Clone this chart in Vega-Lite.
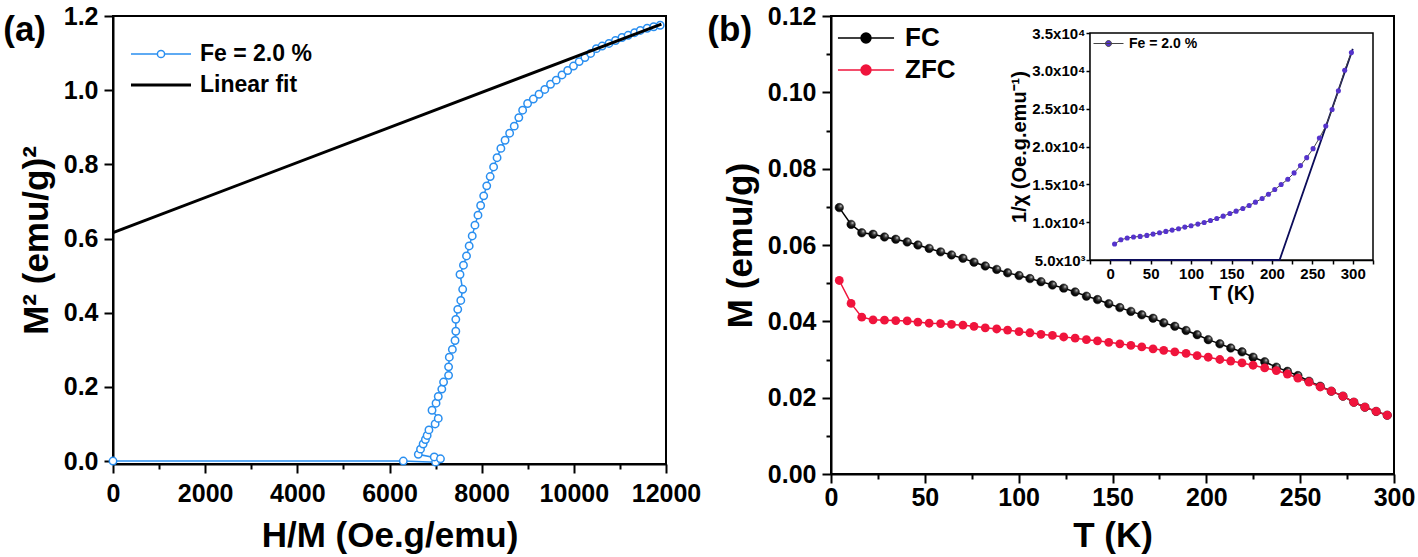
{
  "$schema": "https://vega.github.io/schema/vega-lite/v6.json",
  "background": "white",
  "padding": {"left": 2, "top": 3, "right": 0, "bottom": 0},
  "config": {
    "font": "Liberation Sans",
    "view": {"stroke": "black", "strokeWidth": 2},
    "axis": {
      "grid": false, "domainColor": "black", "domainWidth": 2, "tickColor": "black", "tickWidth": 2,
      "labelFont": "Liberation Sans", "labelFontSize": 25, "labelFontWeight": "bold", "labelColor": "black",
      "titleFont": "Liberation Sans", "titleFontSize": 35, "titleFontWeight": "bold", "titleColor": "black",
      "labelFlush": false, "labelOverlap": false
    },
    "legend": {"labelFont": "Liberation Sans", "labelFontWeight": "bold", "labelColor": "black", "padding": 0},
    "title": {"font": "Liberation Sans", "fontWeight": "bold", "fontSize": 35, "color": "black", "anchor": "start", "frame": "bounds", "baseline": "top"}
  },
  "spacing": 4,
  "resolve": {"scale": {"color": "independent"}, "legend": {"color": "independent"}},
  "hconcat": [
    {
      "width": 553,
      "height": 448,
      "title": {"text": "(a)", "offset": -44, "dx": -16},
      "layer": [
        {
          "data": {"values": [
            {"i": 1, "h": 0, "m": 0}, {"i": 2, "h": 6300, "m": 0}, {"i": 3, "h": 7000, "m": -0.003},
            {"i": 4, "h": 6971, "m": 0.011}, {"i": 5, "h": 7106, "m": 0.006}, {"i": 6, "h": 6625, "m": 0.018},
            {"i": 7, "h": 6673, "m": 0.032}, {"i": 8, "h": 6730, "m": 0.046}, {"i": 9, "h": 6779, "m": 0.058},
            {"i": 10, "h": 6817, "m": 0.069}, {"i": 11, "h": 6856, "m": 0.084}, {"i": 12, "h": 6990, "m": 0.1},
            {"i": 13, "h": 7058, "m": 0.115}, {"i": 14, "h": 6923, "m": 0.137}, {"i": 15, "h": 7010, "m": 0.156},
            {"i": 16, "h": 7058, "m": 0.174}, {"i": 17, "h": 7135, "m": 0.194}, {"i": 18, "h": 7173, "m": 0.213},
            {"i": 19, "h": 7282, "m": 0.231}, {"i": 20, "h": 7282, "m": 0.254}, {"i": 21, "h": 7298, "m": 0.28},
            {"i": 22, "h": 7364, "m": 0.301}, {"i": 23, "h": 7422, "m": 0.325}, {"i": 24, "h": 7439, "m": 0.35},
            {"i": 25, "h": 7439, "m": 0.382}, {"i": 26, "h": 7481, "m": 0.409}, {"i": 27, "h": 7547, "m": 0.433},
            {"i": 28, "h": 7588, "m": 0.463}, {"i": 29, "h": 7530, "m": 0.503}, {"i": 30, "h": 7605, "m": 0.528},
            {"i": 31, "h": 7671, "m": 0.553}, {"i": 32, "h": 7729, "m": 0.58}, {"i": 33, "h": 7795, "m": 0.607},
            {"i": 34, "h": 7854, "m": 0.636}, {"i": 35, "h": 7920, "m": 0.663}, {"i": 36, "h": 7978, "m": 0.689},
            {"i": 37, "h": 8044, "m": 0.715}, {"i": 38, "h": 8110, "m": 0.742}, {"i": 39, "h": 8185, "m": 0.767},
            {"i": 40, "h": 8259, "m": 0.793}, {"i": 41, "h": 8334, "m": 0.818}, {"i": 42, "h": 8417, "m": 0.843},
            {"i": 43, "h": 8508, "m": 0.865}, {"i": 44, "h": 8607, "m": 0.884}, {"i": 45, "h": 8707, "m": 0.903},
            {"i": 46, "h": 8806, "m": 0.926}, {"i": 47, "h": 8889, "m": 0.946}, {"i": 48, "h": 8997, "m": 0.964},
            {"i": 49, "h": 9121, "m": 0.976}, {"i": 50, "h": 9245, "m": 0.989}, {"i": 51, "h": 9370, "m": 1.002},
            {"i": 52, "h": 9494, "m": 1.016}, {"i": 53, "h": 9618, "m": 1.027}, {"i": 54, "h": 9743, "m": 1.041},
            {"i": 55, "h": 9867, "m": 1.053}, {"i": 56, "h": 9992, "m": 1.065}, {"i": 57, "h": 10116, "m": 1.077},
            {"i": 58, "h": 10241, "m": 1.088}, {"i": 59, "h": 10365, "m": 1.099}, {"i": 60, "h": 10489, "m": 1.112},
            {"i": 61, "h": 10614, "m": 1.119}, {"i": 62, "h": 10763, "m": 1.126}, {"i": 63, "h": 10904, "m": 1.134},
            {"i": 64, "h": 11045, "m": 1.142}, {"i": 65, "h": 11178, "m": 1.148}, {"i": 66, "h": 11319, "m": 1.155},
            {"i": 67, "h": 11443, "m": 1.161}, {"i": 68, "h": 11592, "m": 1.167}, {"i": 69, "h": 11733, "m": 1.171},
            {"i": 70, "h": 11874, "m": 1.175}
          ]},
          "mark": {"type": "line", "strokeWidth": 1.5, "point": {"filled": false, "fill": "white", "size": 55, "strokeWidth": 1.5}},
          "encoding": {
            "x": {
              "field": "h", "type": "quantitative",
              "scale": {"domain": [0, 12000], "nice": false, "zero": false},
              "axis": {
                "title": "H/M (Oe.g/emu)",
                "values": [0, 1000, 2000, 3000, 4000, 5000, 6000, 7000, 8000, 9000, 10000, 11000, 12000],
                "format": "d",
                "labelExpr": "datum.value % 2000 === 0 ? datum.label : ''",
                "tickSize": {"condition": {"test": "datum.value % 2000 === 0", "value": 9}, "value": 5},
                "labelPadding": 8, "titlePadding": 12
              }
            },
            "y": {
              "field": "m", "type": "quantitative",
              "scale": {"domain": [-0.008, 1.2], "nice": false, "zero": false},
              "axis": {
                "title": "M² (emu/g)²",
                "values": [0, 0.1, 0.2, 0.3, 0.4, 0.5, 0.6, 0.7, 0.8, 0.9, 1.0, 1.1, 1.2],
                "labelExpr": "round(datum.value * 10) % 2 === 0 ? format(datum.value, '.1f') : ''",
                "tickSize": {"condition": {"test": "round(datum.value * 10) % 2 === 0", "value": 9}, "value": 5},
                "labelPadding": 6, "titlePadding": 9
              }
            },
            "order": {"field": "i", "type": "quantitative"},
            "color": {
              "datum": "Fe = 2.0 %", "type": "nominal",
              "scale": {"domain": ["Fe = 2.0 %", "Linear fit"], "range": ["#2a8ff0", "black"]},
              "legend": {
                "orient": "none", "legendX": 32, "legendY": 22, "title": null,
                "labelFontSize": 23, "symbolSize": 900, "labelOffset": 23, "rowPadding": 3,
                "encode": {"symbols": {"update": {
                  "shape": {"signal": "(datum.value === 'Linear fit' ? 'M-2,0H2' : 'M-2,0H-0.24M0.24,0H2M-0.24,0A0.24,0.24 0 1,0 0.24,0A0.24,0.24 0 1,0 -0.24,0')"},
                  "size": {"value": 900},
                  "fill": {"value": "white"},
                  "strokeWidth": {"signal": "(datum.value === 'Linear fit' ? 3 : 1.5)"}
                }}}
              }
            }
          }
        },
        {
          "data": {"values": [{"h": 0, "m": 0.616}, {"h": 11900, "m": 1.178}]},
          "mark": {"type": "line", "strokeWidth": 3},
          "encoding": {
            "x": {"field": "h", "type": "quantitative"},
            "y": {"field": "m", "type": "quantitative"},
            "color": {"datum": "Linear fit", "type": "nominal"}
          }
        }
      ]
    },
    {
      "width": 563,
      "height": 458,
      "title": {"text": "(b)", "offset": -44, "dx": -16},
      "resolve": {
        "scale": {"x": "independent", "y": "independent", "color": "independent"},
        "axis": {"x": "independent", "y": "independent"},
        "legend": {"color": "independent"}
      },
      "layer": [
        {
          "data": {"values": [
            {"s": "FC", "T": 4.4, "M": 0.0698}, {"s": "FC", "T": 10.7, "M": 0.0654}, {"s": "FC", "T": 16.4, "M": 0.0632},
            {"s": "FC", "T": 22.4, "M": 0.0628}, {"s": "FC", "T": 28.5, "M": 0.0621}, {"s": "FC", "T": 34.5, "M": 0.0615},
            {"s": "FC", "T": 40.6, "M": 0.0608}, {"s": "FC", "T": 46.3, "M": 0.06}, {"s": "FC", "T": 52.3, "M": 0.0591},
            {"s": "FC", "T": 58.4, "M": 0.0582}, {"s": "FC", "T": 64.2, "M": 0.0574}, {"s": "FC", "T": 70.3, "M": 0.0565},
            {"s": "FC", "T": 76.2, "M": 0.0555}, {"s": "FC", "T": 82.2, "M": 0.0545}, {"s": "FC", "T": 88.3, "M": 0.0536},
            {"s": "FC", "T": 94.1, "M": 0.0527}, {"s": "FC", "T": 100.2, "M": 0.052}, {"s": "FC", "T": 106, "M": 0.0512},
            {"s": "FC", "T": 111.9, "M": 0.0504}, {"s": "FC", "T": 118, "M": 0.0495}, {"s": "FC", "T": 124, "M": 0.0487},
            {"s": "FC", "T": 130.1, "M": 0.0477}, {"s": "FC", "T": 136.1, "M": 0.0466}, {"s": "FC", "T": 142, "M": 0.0457},
            {"s": "FC", "T": 148, "M": 0.0446}, {"s": "FC", "T": 153.9, "M": 0.0436}, {"s": "FC", "T": 159.8, "M": 0.0426},
            {"s": "FC", "T": 165.6, "M": 0.0417}, {"s": "FC", "T": 171.6, "M": 0.0408}, {"s": "FC", "T": 177.3, "M": 0.0396},
            {"s": "FC", "T": 183.2, "M": 0.0387}, {"s": "FC", "T": 189.2, "M": 0.0376}, {"s": "FC", "T": 195.1, "M": 0.0365},
            {"s": "FC", "T": 201, "M": 0.0352}, {"s": "FC", "T": 207.2, "M": 0.0341}, {"s": "FC", "T": 213, "M": 0.033},
            {"s": "FC", "T": 219, "M": 0.032}, {"s": "FC", "T": 224.9, "M": 0.0306}, {"s": "FC", "T": 231.1, "M": 0.0294},
            {"s": "FC", "T": 237.3, "M": 0.028}, {"s": "FC", "T": 243.2, "M": 0.0269}, {"s": "FC", "T": 248.8, "M": 0.0258},
            {"s": "FC", "T": 254.7, "M": 0.0243}, {"s": "FC", "T": 260.7, "M": 0.023}, {"s": "FC", "T": 266.6, "M": 0.0217},
            {"s": "FC", "T": 272.8, "M": 0.0204}, {"s": "FC", "T": 278.6, "M": 0.0188}, {"s": "FC", "T": 284.5, "M": 0.0175},
            {"s": "FC", "T": 290.5, "M": 0.0164}, {"s": "FC", "T": 296.4, "M": 0.0154},
            {"s": "ZFC", "T": 4.4, "M": 0.0507}, {"s": "ZFC", "T": 10.7, "M": 0.0447}, {"s": "ZFC", "T": 16.4, "M": 0.0411},
            {"s": "ZFC", "T": 22.4, "M": 0.0404}, {"s": "ZFC", "T": 28.5, "M": 0.0403}, {"s": "ZFC", "T": 34.5, "M": 0.0402},
            {"s": "ZFC", "T": 40.6, "M": 0.0401}, {"s": "ZFC", "T": 46.3, "M": 0.0398}, {"s": "ZFC", "T": 52.3, "M": 0.0395},
            {"s": "ZFC", "T": 58.4, "M": 0.0394}, {"s": "ZFC", "T": 64.2, "M": 0.0392}, {"s": "ZFC", "T": 70.3, "M": 0.039},
            {"s": "ZFC", "T": 76.2, "M": 0.0387}, {"s": "ZFC", "T": 82.2, "M": 0.0383}, {"s": "ZFC", "T": 88.3, "M": 0.038},
            {"s": "ZFC", "T": 94.1, "M": 0.0377}, {"s": "ZFC", "T": 100.2, "M": 0.0373}, {"s": "ZFC", "T": 106, "M": 0.037},
            {"s": "ZFC", "T": 111.9, "M": 0.0366}, {"s": "ZFC", "T": 118, "M": 0.0363}, {"s": "ZFC", "T": 124, "M": 0.0359},
            {"s": "ZFC", "T": 130.1, "M": 0.0356}, {"s": "ZFC", "T": 136.1, "M": 0.0352}, {"s": "ZFC", "T": 142, "M": 0.0349},
            {"s": "ZFC", "T": 148, "M": 0.0345}, {"s": "ZFC", "T": 153.9, "M": 0.0341}, {"s": "ZFC", "T": 159.8, "M": 0.0337},
            {"s": "ZFC", "T": 165.6, "M": 0.0333}, {"s": "ZFC", "T": 171.6, "M": 0.0328}, {"s": "ZFC", "T": 177.3, "M": 0.0324},
            {"s": "ZFC", "T": 183.2, "M": 0.032}, {"s": "ZFC", "T": 189.2, "M": 0.0316}, {"s": "ZFC", "T": 195.1, "M": 0.031},
            {"s": "ZFC", "T": 201, "M": 0.0306}, {"s": "ZFC", "T": 207.2, "M": 0.03}, {"s": "ZFC", "T": 213, "M": 0.0296},
            {"s": "ZFC", "T": 219, "M": 0.0291}, {"s": "ZFC", "T": 224.9, "M": 0.0285}, {"s": "ZFC", "T": 231.1, "M": 0.0278},
            {"s": "ZFC", "T": 237.3, "M": 0.0271}, {"s": "ZFC", "T": 243.2, "M": 0.0262}, {"s": "ZFC", "T": 248.8, "M": 0.0251},
            {"s": "ZFC", "T": 254.7, "M": 0.0241}, {"s": "ZFC", "T": 260.7, "M": 0.0228}, {"s": "ZFC", "T": 266.6, "M": 0.0217},
            {"s": "ZFC", "T": 272.8, "M": 0.0204}, {"s": "ZFC", "T": 278.6, "M": 0.0188}, {"s": "ZFC", "T": 284.5, "M": 0.0175},
            {"s": "ZFC", "T": 290.5, "M": 0.0164}, {"s": "ZFC", "T": 296.4, "M": 0.0154}
          ]},
          "encoding": {
            "x": {
              "field": "T", "type": "quantitative",
              "scale": {"domain": [0, 300], "nice": false, "zero": false},
              "axis": {
                "title": "T (K)",
                "values": [0, 25, 50, 75, 100, 125, 150, 175, 200, 225, 250, 275, 300],
                "labelExpr": "datum.value % 50 === 0 ? datum.label : ''",
                "tickSize": {"condition": {"test": "datum.value % 50 === 0", "value": 9}, "value": 5},
                "labelPadding": 2, "titlePadding": 8
              }
            },
            "y": {
              "field": "M", "type": "quantitative",
              "scale": {"domain": [0, 0.12], "nice": false, "zero": false},
              "axis": {
                "title": "M (emu/g)",
                "values": [0, 0.01, 0.02, 0.03, 0.04, 0.05, 0.06, 0.07, 0.08, 0.09, 0.1, 0.11, 0.12],
                "labelExpr": "round(datum.value * 100) % 2 === 0 ? format(datum.value, '.2f') : ''",
                "tickSize": {"condition": {"test": "round(datum.value * 100) % 2 === 0", "value": 9}, "value": 5},
                "labelPadding": 6, "titlePadding": 9
              }
            }
          },
          "layer": [
            {
              "mark": {"type": "line", "strokeWidth": 1.5},
              "encoding": {
                "order": {"field": "T", "type": "quantitative"},
                "color": {
                  "field": "s", "type": "nominal",
                  "scale": {"domain": ["FC", "ZFC"], "range": ["black", "#f0143c"]},
                  "legend": {
                    "orient": "none", "legendX": 19, "legendY": 6, "title": null,
                    "labelFontSize": 26, "symbolSize": 900, "labelOffset": 23, "rowPadding": 3,
                    "encode": {"symbols": {"update": {
                      "shape": {"value": "M-1.87,0H1.87M-0.33,0A0.33,0.33 0 1,0 0.33,0A0.33,0.33 0 1,0 -0.33,0"},
                      "size": {"value": 900},
                      "fill": {"signal": "(datum.value === 'FC' ? 'black' : '#f0143c')"},
                      "strokeWidth": {"value": 1.5}
                    }}}
                  }
                }
              }
            },
            {
              "transform": [{"filter": "datum.s === 'FC'"}],
              "mark": {
                "type": "point", "filled": true, "size": 72, "opacity": 1, "stroke": "#111", "strokeWidth": 0.5,
                "fill": {
                  "gradient": "radial", "x1": 0.68, "y1": 0.32, "r1": 0, "x2": 0.6, "y2": 0.4, "r2": 0.62,
                  "stops": [
                    {"offset": 0, "color": "#eeeeee"},
                    {"offset": 0.25, "color": "#555555"},
                    {"offset": 0.6, "color": "#111111"},
                    {"offset": 1, "color": "#000000"}
                  ]
                }
              }
            },
            {
              "transform": [{"filter": "datum.s === 'ZFC'"}],
              "mark": {"type": "circle", "size": 78, "opacity": 1, "color": "#f0143c"}
            }
          ]
        },
        {
          "layer": [
            {
              "data": {"values": [{}]},
              "mark": {"type": "rect", "fill": "white", "stroke": "black", "strokeWidth": 1.5},
              "encoding": {
                "x": {
                  "datum": -25, "type": "quantitative",
                  "scale": {"domain": [-25, 325], "nice": false, "zero": false, "range": [259, 542]},
                  "axis": {
                    "orient": "bottom", "offset": -214, "title": "T (K)",
                    "values": [-25, 0, 25, 50, 75, 100, 125, 150, 175, 200, 225, 250, 275, 300, 325],
                    "labelExpr": "datum.value % 50 === 0 && datum.value >= 0 ? datum.label : ''",
                    "tickSize": 4, "tickWidth": 1.5, "domainWidth": 1.5,
                    "labelFontSize": 15, "titleFontSize": 20, "labelPadding": 2, "titlePadding": 2
                  }
                },
                "x2": {"datum": 325},
                "y": {
                  "datum": 5000, "type": "quantitative",
                  "scale": {"domain": [5000, 35000], "nice": false, "zero": false, "range": [244, 17]},
                  "axis": {
                    "orient": "left", "offset": -259, "title": "1/χ (Oe.g.emu⁻¹)",
                    "values": [5000, 7500, 10000, 12500, 15000, 17500, 20000, 22500, 25000, 27500, 30000, 32500, 35000],
                    "labelExpr": "datum.value % 5000 === 0 ? (datum.value < 10000 ? format(datum.value / 1000, '.1f') + 'x10³' : format(datum.value / 10000, '.1f') + 'x10⁴') : ''",
                    "tickSize": 4, "tickWidth": 1.5, "domainWidth": 1.5,
                    "labelFontSize": 15, "titleFontSize": 20, "labelPadding": 1, "titlePadding": 2
                  }
                },
                "y2": {"datum": 35000}
              }
            },
            {
              "data": {"values": [{"T": 0, "v": 5000}, {"T": 209.5, "v": 5000}, {"T": 300, "v": 32900}]},
              "mark": {"type": "line", "color": "#0c0c5a", "strokeWidth": 1.8},
              "encoding": {
                "x": {"field": "T", "type": "quantitative"},
                "y": {"field": "v", "type": "quantitative"}
              }
            },
            {
              "data": {"values": [
                {"T": 5.4, "v": 7108}, {"T": 13.2, "v": 7679}, {"T": 21, "v": 7899}, {"T": 28.8, "v": 8031},
                {"T": 37, "v": 8119}, {"T": 45.3, "v": 8250}, {"T": 53, "v": 8426}, {"T": 61, "v": 8602},
                {"T": 68.8, "v": 8777}, {"T": 76.6, "v": 8953}, {"T": 84.5, "v": 9129}, {"T": 92.3, "v": 9349},
                {"T": 100, "v": 9524}, {"T": 108.4, "v": 9744}, {"T": 116.2, "v": 9963}, {"T": 124, "v": 10227},
                {"T": 131.8, "v": 10490}, {"T": 139.7, "v": 10798}, {"T": 148, "v": 11149}, {"T": 155.7, "v": 11457},
                {"T": 164, "v": 11808}, {"T": 171.8, "v": 12203}, {"T": 179.6, "v": 12643}, {"T": 187.9, "v": 13126},
                {"T": 195.7, "v": 13697}, {"T": 203.5, "v": 14312}, {"T": 211.4, "v": 14971}, {"T": 219.6, "v": 15674},
                {"T": 227.4, "v": 16508}, {"T": 235.3, "v": 17474}, {"T": 243, "v": 18528}, {"T": 250.9, "v": 19714},
                {"T": 258.7, "v": 21119}, {"T": 266.6, "v": 22700}, {"T": 274.4, "v": 24896}, {"T": 282.2, "v": 27356},
                {"T": 290, "v": 30079}, {"T": 298.3, "v": 32407}
              ]},
              "encoding": {
                "x": {"field": "T", "type": "quantitative"},
                "y": {"field": "v", "type": "quantitative"}
              },
              "layer": [
                {
                  "mark": {"type": "line", "strokeWidth": 1},
                  "encoding": {
                    "color": {
                      "datum": "Fe = 2.0 %", "type": "nominal",
                      "scale": {"domain": ["Fe = 2.0 %"], "range": ["#444444"]},
                      "legend": {
                        "orient": "none", "legendX": 262, "legendY": 12, "title": null,
                        "labelFontSize": 14, "symbolSize": 900, "labelOffset": 5,
                        "encode": {"symbols": {"update": {
                          "shape": {"value": "M-1,0H1M-0.2,0A0.2,0.2 0 1,0 0.2,0A0.2,0.2 0 1,0 -0.2,0"},
                          "size": {"value": 900},
                          "fill": {"value": "#5533cc"},
                          "strokeWidth": {"value": 1}
                        }}}
                      }
                    }
                  }
                },
                {
                  "mark": {"type": "circle", "size": 26, "opacity": 1, "color": "#5533cc"}
                }
              ]
            }
          ]
        }
      ]
    }
  ]
}
